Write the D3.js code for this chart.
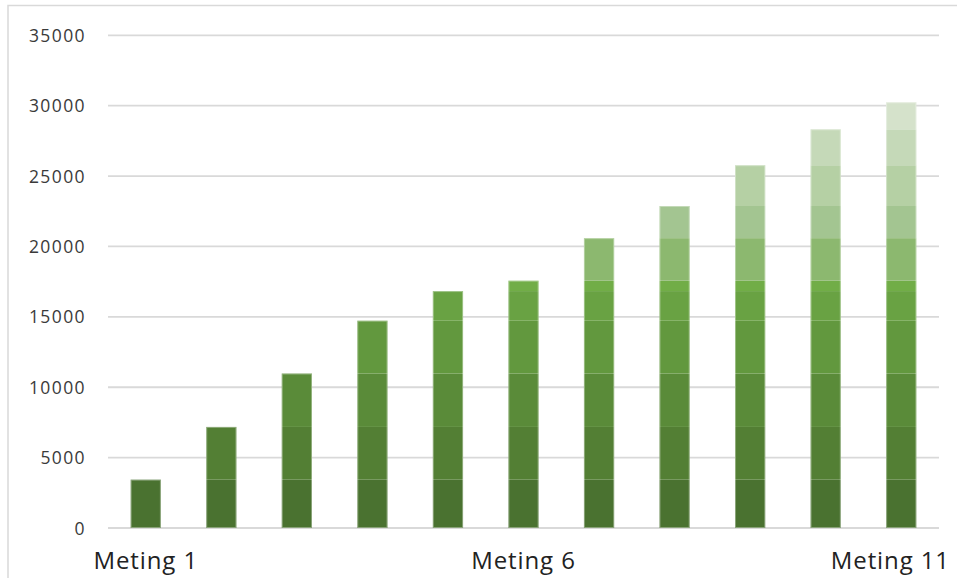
<!DOCTYPE html>
<html>
<head>
<meta charset="utf-8">
<script src="https://cdn.jsdelivr.net/npm/d3@7"></script>
<style>
  html, body { margin: 0; padding: 0; background: #fff; }
  svg { display: block; }
</style>
</head>
<body>
<svg id="chart" width="957" height="578"></svg>
<script>
// ---- data ----
const categories = ["Meting 1", "Meting 2", "Meting 3", "Meting 4", "Meting 5", "Meting 6",
                    "Meting 7", "Meting 8", "Meting 9", "Meting 10", "Meting 11"];
// each measurement adds one segment; segment k has the same value in every bar it appears in
const segmentValues = [3435, 3745, 3795, 3751, 2104, 738, 3022, 2284, 2896, 2552, 1920];
const segmentColors = ["#4a7230", "#537f34", "#5a8b39", "#62983e", "#69a243", "#71ad47",
                       "#8cb86f", "#a3c591", "#b5d0a4", "#c5d9b8", "#d5e2cb"];
const yTicks = [0, 5000, 10000, 15000, 20000, 25000, 30000, 35000];
const shownXLabels = ["Meting 1", "Meting 6", "Meting 11"];

// ---- table for d3.stack ----
const keys = segmentValues.map((_, k) => "s" + (k + 1));
const table = categories.map((c, i) => {
  const row = { cat: c };
  segmentValues.forEach((v, k) => { row[keys[k]] = k <= i ? v : 0; });
  return row;
});
const series = d3.stack().keys(keys)(table);

// ---- layout ----
const svg = d3.select("#chart");
const x = d3.scaleBand().domain(categories).range([108, 939]).paddingInner(0.6).paddingOuter(0.3);
const y = d3.scaleLinear().domain([0, 35000]).range([528, 35.3]);

// outer chart border
svg.append("path")
  .attr("d", "M8,580 L8,5.5 L960,5.5")
  .attr("fill", "none").attr("stroke", "#d9d9d9").attr("stroke-width", 1.5);

// gridlines
svg.append("g").selectAll("line").data(yTicks).join("line")
  .attr("x1", 108).attr("x2", 939)
  .attr("y1", d => y(d)).attr("y2", d => y(d))
  .attr("stroke", "#d9d9d9").attr("stroke-width", 1.8);

// y axis labels
const yAxis = d3.axisLeft(y).tickValues(yTicks).tickSize(0).tickPadding(0).tickFormat(d3.format("d"));
const gy = svg.append("g").attr("transform", "translate(86,0)").call(yAxis);
gy.select(".domain").remove();
gy.selectAll("text")
  .attr("fill", "#3a3a3a")
  .style("font-family", "'Open Sans', sans-serif")
  .style("font-size", "17.5px")
  .style("letter-spacing", "1.4px")
  .attr("dy", "0.35em");

// bars
svg.append("g").selectAll("g").data(series).join("g")
  .attr("fill", (d, k) => segmentColors[k])
  .selectAll("rect").data(d => d.filter(s => s[1] > s[0])).join("rect")
  .attr("x", d => x(d.data.cat))
  .attr("width", x.bandwidth())
  .attr("y", d => y(d[1]))
  .attr("height", d => y(d[0]) - y(d[1]));

// light outline around each bar
svg.append("g").selectAll("rect").data(table).join("rect")
  .attr("x", d => x(d.cat) + 0.5)
  .attr("width", x.bandwidth() - 1)
  .attr("y", d => y(d3.sum(keys, k => d[k])) + 0.5)
  .attr("height", d => y(0) - y(d3.sum(keys, k => d[k])) - 1)
  .attr("fill", "none").attr("stroke", "#ffffff").attr("stroke-opacity", 0.35).attr("stroke-width", 1);

// x axis labels (every 5th category)
const xAxis = d3.axisBottom(x).tickValues(shownXLabels).tickSize(0).tickPadding(0);
const gx = svg.append("g").attr("transform", "translate(0,569)").call(xAxis);
gx.select(".domain").remove();
gx.selectAll("text")
  .attr("fill", "#222222")
  .attr("dy", "0")
  .style("font-family", "'Open Sans', sans-serif")
  .style("font-size", "24px")
  .style("letter-spacing", "0.9px");
// keep last label inside the chart's right edge
gx.selectAll(".tick").each(function(d) {
  const t = d3.select(this).select("text");
  const w = this.getBBox().width;
  const cx = x(d) + x.bandwidth() / 2;
  if (cx + w / 2 > 950) t.attr("x", 950 - w / 2 - cx);
});
</script>
</body>
</html>
